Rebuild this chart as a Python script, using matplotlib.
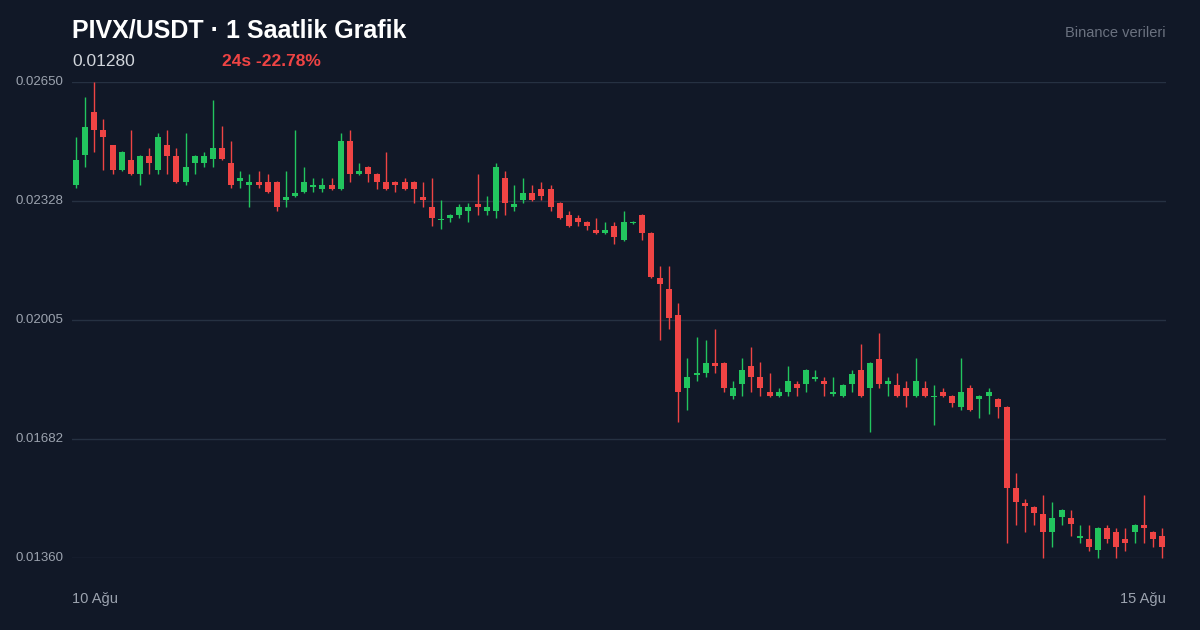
import matplotlib
matplotlib.use("Agg")
import matplotlib.pyplot as plt
import numpy as np

plt.rcParams['font.family'] = ['Liberation Sans', 'DejaVu Sans']

# OHLC in units of 1e-5 USDT
opens = [2371,2452,2569,2520,2479,2412,2439,2401,2449,2412,2479,2449,2379,2430,2430,2441,2471,2430,2382,2371,
         2379,2379,2379,2330,2341,2352,2365,2360,2371,2360,2490,2401,2420,2401,2379,2379,2379,2379,2338,2311,
         2276,2281,2290,2300,2319,2300,2300,2390,2311,2330,2349,2360,2360,2322,2290,2281,2271,2249,2241,2260,
         2222,2268,2290,2241,2119,2089,2019,1821,1856,1861,1888,1888,1799,1832,1880,1850,1810,1799,1810,1832,
         1832,1845,1840,1805,1799,1832,1870,1821,1899,1832,1829,1821,1799,1821,1797,1810,1799,1769,1821,1791,
         1799,1791,1769,1550,1509,1498,1479,1431,1471,1468,1414,1412,1382,1441,1431,1412,1431,1450,1431,1420]
closes = [2439,2528,2520,2501,2412,2460,2401,2449,2430,2501,2449,2379,2420,2449,2449,2471,2441,2371,2390,2379,
          2371,2352,2311,2338,2349,2379,2371,2371,2360,2490,2401,2409,2401,2379,2360,2371,2360,2360,2330,2281,
          2279,2290,2311,2311,2311,2311,2420,2322,2319,2349,2330,2341,2311,2281,2260,2271,2260,2241,2249,2230,
          2271,2271,2241,2122,2103,2010,1810,1850,1861,1888,1880,1821,1821,1870,1850,1821,1799,1810,1840,1821,
          1870,1850,1832,1810,1829,1859,1799,1888,1832,1840,1799,1799,1840,1799,1799,1799,1780,1810,1761,1799,
          1810,1769,1550,1512,1501,1482,1431,1468,1490,1452,1420,1390,1441,1412,1390,1401,1450,1441,1412,1390]
highs = [2501,2609,2650,2550,2479,2462,2520,2451,2471,2512,2520,2471,2512,2451,2460,2601,2531,2490,2409,2401,
         2409,2401,2381,2409,2520,2420,2390,2390,2390,2512,2520,2430,2422,2403,2460,2381,2390,2381,2379,2390,
         2330,2291,2319,2322,2401,2341,2430,2409,2371,2390,2371,2379,2371,2324,2300,2290,2273,2281,2271,2271,
         2300,2273,2292,2243,2151,2151,2051,1902,1959,1951,1981,1890,1840,1902,1932,1891,1861,1821,1880,1840,
         1872,1870,1850,1850,1831,1870,1940,1890,1970,1850,1861,1840,1902,1840,1829,1821,1801,1902,1829,1801,
         1821,1793,1771,1590,1520,1500,1531,1512,1492,1490,1450,1450,1443,1450,1441,1441,1452,1531,1433,1441]
lows = [2363,2420,2460,2412,2401,2410,2398,2371,2401,2401,2401,2377,2371,2401,2420,2420,2439,2363,2363,2311,
        2363,2350,2300,2311,2339,2350,2352,2352,2358,2358,2379,2399,2379,2360,2358,2352,2358,2322,2311,2260,
        2252,2271,2281,2271,2290,2290,2281,2290,2300,2322,2328,2330,2300,2279,2258,2260,2249,2239,2239,2211,
        2220,2266,2222,2120,1951,1981,1729,1761,1840,1850,1861,1810,1791,1799,1810,1799,1797,1797,1799,1799,
        1810,1840,1799,1799,1797,1810,1797,1702,1821,1799,1797,1769,1797,1797,1720,1797,1769,1761,1759,1739,
        1750,1739,1401,1450,1431,1450,1360,1390,1450,1420,1401,1379,1360,1401,1360,1379,1401,1401,1390,1360]

o = np.array(opens) / 1e5
c = np.array(closes) / 1e5
h = np.array(highs) / 1e5
l = np.array(lows) / 1e5

yticks = [0.01360, 0.01682, 0.02005, 0.02328, 0.02650]
xlabels = ["10 Ağu", "15 Ağu"]

BG = "#111827"
GREEN = "#22c55e"
RED = "#ef4444"

fig = plt.figure(figsize=(12, 6.3), dpi=100, facecolor=BG)
ax = fig.add_axes([72/1200, 1-558/630, (1166-72)/1200, (558-82)/630])
ax.set_facecolor(BG)
n = len(o)
x = np.arange(n)
ax.set_xlim(-0.44, n - 1 + 0.44)
ax.set_ylim(yticks[0], yticks[-1])
for yt in yticks:
    ax.axhline(yt, color="#263142", lw=1, zorder=0)
for i in range(n):
    col = GREEN if c[i] >= o[i] else RED
    ax.vlines(x[i], l[i], h[i], color=col, lw=1, zorder=2, clip_on=False)
    lo, hi = min(o[i], c[i]), max(o[i], c[i])
    if hi - lo < 0.000006:
        lo, hi = (lo + hi) / 2 - 0.000003, (lo + hi) / 2 + 0.000003
    ax.add_patch(plt.Rectangle((x[i] - 0.33, lo), 0.66, hi - lo, color=col, zorder=3, clip_on=False, lw=0))
for s in ax.spines.values():
    s.set_visible(False)
ax.set_xticks([]); ax.set_yticks([])

for yt in yticks:
    fig.text(15/1200, 1 - (82 + (yticks[-1]-yt)/(yticks[-1]-yticks[0])*476)/630, f"{yt:.5f}",
             color="#9ca3af", fontsize=9.5, va="center", ha="left")

fig.text(72/1200, 1-30/630, "PIVX/USDT · 1 Saatlik Grafik", color="white", fontsize=18, fontweight="bold", va="center")
fig.text(72/1200, 1-61/630, "0.01280", color="#d1d5db", fontsize=12.5, va="center")
fig.text(222/1200, 1-61/630, "24s -22.78%", color=RED, fontsize=12.5, fontweight="bold", va="center")
fig.text(1166/1200, 1-33/630, "Binance verileri", color="#6b7280", fontsize=10.5, va="center", ha="right")
fig.text(72/1200, 1-599/630, xlabels[0], color="#9ca3af", fontsize=10.5, va="center", ha="left")
fig.text(1166/1200, 1-599/630, xlabels[1], color="#9ca3af", fontsize=10.5, va="center", ha="right")

fig.savefig("out.png", dpi=100, facecolor=BG)
